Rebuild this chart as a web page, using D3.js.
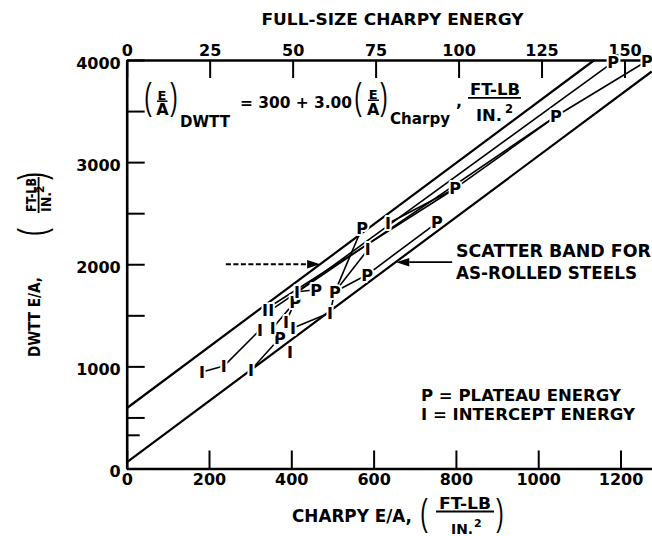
<!DOCTYPE html>
<html>
<head>
<meta charset="utf-8">
<script src="https://cdn.jsdelivr.net/npm/d3@7"></script>
<style>
  html, body { margin: 0; padding: 0; background: #fff; }
  svg { display: block; }
  text { fill: #000; }
</style>
</head>
<body>
<svg id="chart" width="652" height="536" font-family="DejaVu Sans, sans-serif" font-weight="bold"></svg>
<script>
// Charpy E/A (ft-lb/in^2) along the bottom axis
const charpyTicks = [0, 200, 400, 600, 800, 1000, 1200];
// Full-size Charpy energy (ft-lb) along the top axis
const fullSizeTicks = [0, 25, 50, 75, 100, 125, 150];
// DWTT E/A (ft-lb/in^2)
const dwttTicks = [0, 1000, 2000, 3000, 4000];
const dwttMinorTicks = [500, 1500, 2500, 3500];
const dwttShortTicks = [330];
// net section of a full-size Charpy bar, in^2
const specimenArea = 0.124;

// scatter band limits: DWTT = intercept + slope * Charpy
const bandIntercepts = [590, 60];
const bandSlope = 3.0;

// plateau energies (P)
const plateauCharpy = [1182, 1264, 1043, 798, 572, 754, 584, 506, 460, 409, 372];
const plateauDwtt   = [3980, 3990, 3449, 2742, 2358, 2408, 1897, 1730, 1750, 1632, 1278];
// intercept energies (I)
const interceptCharpy = [635, 586, 414, 336, 351, 324, 355, 387, 404, 397, 494, 302, 183, 236];
const interceptDwtt   = [2399, 2143, 1730, 1554, 1554, 1357, 1376, 1435, 1376, 1140, 1524, 965, 944, 1003];
// tie lines joining the points of each steel
const tieLines = [
  ["I12", "I13"], ["I13", "I5"], ["I11", "P10"], ["I8", "I10"],
  ["I3", "P3"], ["I4", "P2"], ["I2", "P0"], ["P2", "P1"], ["P3", "P2"],
  ["P7", "P4"], ["P7", "I1"], ["P7", "P6"], ["P6", "P5"], ["I0", "P3"],
  ["I2", "P8"], ["P9", "I7"], ["P9", "I6"], ["I10", "P7"]
];

// band annotation arrows (Charpy, DWTT)
const upperArrow = { from: [241, 2000], to: [470, 2000] };
const lowerArrow = { from: [791, 2020], to: [655, 2020] };

const FONT = "DejaVu Sans, sans-serif";
const PAREN_FONT = "Liberation Sans, sans-serif";
const CAP = 0.729; // cap height / em

const svg = d3.select("#chart");

const x = d3.scaleLinear().domain([0, 1276]).range([126.7, 651.8]);
const xTop = d3.scaleLinear().domain([0, 1276 * specimenArea]).range(x.range());
const y = d3.scaleLinear().domain([0, 4000]).range([468.5, 60]);

function styleAxis(g, size) {
  g.attr("font-family", FONT).attr("font-size", size).attr("font-weight", "bold");
  g.selectAll(".tick line").attr("stroke", "#000").attr("stroke-width", 2);
  g.selectAll(".domain").attr("stroke", "#000").attr("stroke-width", 2.6);
  g.selectAll(".tick text").attr("fill", "#000");
}

// ---- axes ----
const gBottom = svg.append("g").attr("transform", `translate(0,${y(0)})`)
  .call(d3.axisBottom(x).tickValues(charpyTicks).tickSizeInner(-18).tickSizeOuter(0)
    .tickPadding(5).tickFormat(d3.format("d")));
styleAxis(gBottom, 16);

const gTop = svg.append("g").attr("transform", `translate(0,${y(4000)})`)
  .call(d3.axisTop(xTop).tickValues(fullSizeTicks).tickSizeInner(-18).tickSizeOuter(0)
    .tickPadding(4.5).tickFormat(d3.format("d")));
styleAxis(gTop, 16);

const gLeft = svg.append("g").attr("transform", `translate(${x(0)},0)`)
  .call(d3.axisLeft(y).tickValues(dwttTicks).tickSizeInner(-18).tickSizeOuter(0)
    .tickPadding(6).tickFormat(d3.format("d")));
styleAxis(gLeft, 16);
gLeft.selectAll(".tick text").attr("dy", "0.5em");

const gMinor = svg.append("g").attr("transform", `translate(${x(0)},0)`)
  .call(d3.axisLeft(y).tickValues(dwttMinorTicks).tickSizeInner(-18).tickSizeOuter(0).tickFormat(() => ""));
styleAxis(gMinor, 16);
gMinor.select(".domain").remove();

const gShort = svg.append("g").attr("transform", `translate(${x(0)},0)`)
  .call(d3.axisLeft(y).tickValues(dwttShortTicks).tickSizeInner(-13).tickSizeOuter(0).tickFormat(() => ""));
styleAxis(gShort, 16);
gShort.select(".domain").remove();

// ---- scatter band ----
const [xMin, xMax] = x.domain();
bandIntercepts.forEach(b => {
  const xEnd = Math.min(xMax, (4000 - b) / bandSlope);
  svg.append("line")
    .attr("x1", x(xMin)).attr("y1", y(b + bandSlope * xMin))
    .attr("x2", x(xEnd)).attr("y2", y(b + bandSlope * xEnd))
    .attr("stroke", "#000").attr("stroke-width", 2.2);
});

// ---- points ----
const points = {};
plateauCharpy.forEach((c, i) => { points["P" + i] = { type: "P", c, d: plateauDwtt[i] }; });
interceptCharpy.forEach((c, i) => { points["I" + i] = { type: "I", c, d: interceptDwtt[i] }; });

svg.append("g").selectAll("line").data(tieLines).join("line")
  .attr("x1", d => x(points[d[0]].c)).attr("y1", d => y(points[d[0]].d))
  .attr("x2", d => x(points[d[1]].c)).attr("y2", d => y(points[d[1]].d))
  .attr("stroke", "#000").attr("stroke-width", 1.6);

// ---- arrows ----
function arrow(a, dashed) {
  const x1 = x(a.from[0]), y1 = y(a.from[1]);
  const x2 = x(a.to[0]), y2 = y(a.to[1]);
  const ang = Math.atan2(y2 - y1, x2 - x1);
  const L = 13, hw = 4.2;
  const bx = x2 - L * Math.cos(ang), by = y2 - L * Math.sin(ang);
  svg.append("line").attr("x1", x1).attr("y1", y1).attr("x2", bx).attr("y2", by)
    .attr("stroke", "#000").attr("stroke-width", 1.8)
    .attr("stroke-dasharray", dashed ? "5,2.5" : null);
  const px = -Math.sin(ang), py = Math.cos(ang);
  svg.append("path")
    .attr("d", `M${x2},${y2}L${bx + hw * px},${by + hw * py}L${bx - hw * px},${by - hw * py}Z`)
    .attr("fill", "#000");
}
arrow(upperArrow, true);
arrow(lowerArrow, false);

// point letters with a white knock-out so the tie lines stop at them
const markSize = 16;
svg.append("g").selectAll("text").data(Object.values(points)).join("text")
  .attr("x", d => x(d.c))
  .attr("y", d => y(d.d) + markSize * CAP / 2)
  .attr("text-anchor", "middle")
  .attr("font-size", markSize)
  .attr("stroke", "#fff").attr("stroke-width", 4).attr("stroke-linejoin", "round")
  .attr("paint-order", "stroke")
  .text(d => d.type);

// ---- text helpers ----
function txt(parent, s, xx, base, size, opt = {}) {
  const t = parent.append("text").attr("x", xx).attr("y", base)
    .attr("font-size", size).text(s);
  if (opt.anchor) t.attr("text-anchor", opt.anchor);
  if (opt.len) t.attr("textLength", opt.len).attr("lengthAdjust", "spacingAndGlyphs");
  return t;
}
// tall, light parenthesis centred on (cx, cy)
function paren(parent, s, cx, cy, size) {
  return parent.append("text")
    .attr("transform", `translate(${cx},${cy}) scale(0.62,1)`)
    .attr("x", 0).attr("y", 0.26 * size)
    .attr("text-anchor", "middle").attr("font-size", size)
    .attr("font-family", PAREN_FONT).attr("font-weight", "normal")
    .text(s);
}
function bar(parent, x1, x2, yy, w) {
  parent.append("line").attr("x1", x1).attr("x2", x2).attr("y1", yy).attr("y2", yy)
    .attr("stroke", "#000").attr("stroke-width", w || 1.8);
}

// ---- titles ----
txt(svg, "FULL-SIZE CHARPY ENERGY", 392.5, 24.5, 16.5, { anchor: "middle", len: 262 });

// bottom axis title
txt(svg, "CHARPY E/A,", 292, 522, 17, { len: 120 });
paren(svg, "(", 424, 516, 36);
txt(svg, "FT-LB", 465, 508.5, 15, { anchor: "middle", len: 52 });
bar(svg, 436, 494, 511.5);
txt(svg, "IN.", 451, 533.5, 14, { len: 22 });
txt(svg, "2", 474, 526.5, 11);
paren(svg, ")", 500, 516, 36);

// left axis title
const yt = svg.append("g").attr("transform", "translate(34,317) rotate(-90)");
txt(yt, "DWTT E/A,", 0, 5.8, 16, { anchor: "middle", len: 80 });
paren(yt, "(", 85, 1, 38);
txt(yt, "FT-LB", 122, 2, 13.5, { anchor: "middle", len: 34 });
bar(yt, 104, 140, 4.6);
txt(yt, "IN.", 105, 16.5, 14, { len: 20 });
txt(yt, "2", 124, 10, 10.5);
paren(yt, ")", 141, 1, 38);

// ---- regression equation ----
paren(svg, "(", 148, 100, 36);
txt(svg, "E", 162, 99.5, 13, { anchor: "middle" });
bar(svg, 157, 167.5, 101.2, 1.5);
txt(svg, "A", 162.5, 115, 16, { anchor: "middle" });
paren(svg, ")", 174, 100, 36);
txt(svg, "DWTT", 180, 126.7, 16, { len: 50 });
txt(svg, "= 300 + 3.00", 240, 108, 16, { len: 112 });
paren(svg, "(", 358, 100, 36);
txt(svg, "E", 373.3, 98.5, 13, { anchor: "middle" });
bar(svg, 368, 379, 100.2, 1.5);
txt(svg, "A", 373.3, 115, 16, { anchor: "middle" });
paren(svg, ")", 384, 100, 36);
txt(svg, "Charpy", 390, 124, 16, { len: 60 });
txt(svg, ",", 456, 106.5, 16);
txt(svg, "FT-LB", 470, 95, 16, { len: 50 });
bar(svg, 468, 521, 97.8);
txt(svg, "IN.", 476, 121, 16, { len: 26 });
txt(svg, "2", 505, 113, 11.5);

// ---- band and legend notes ----
txt(svg, "SCATTER BAND FOR", 456, 257, 17, { len: 195 });
txt(svg, "AS-ROLLED STEELS", 456, 279, 17, { len: 181 });
txt(svg, "P = PLATEAU ENERGY", 421, 401, 16.5, { len: 200 });
txt(svg, "I = INTERCEPT ENERGY", 421, 419.5, 16.5, { len: 214 });
</script>
</body>
</html>
